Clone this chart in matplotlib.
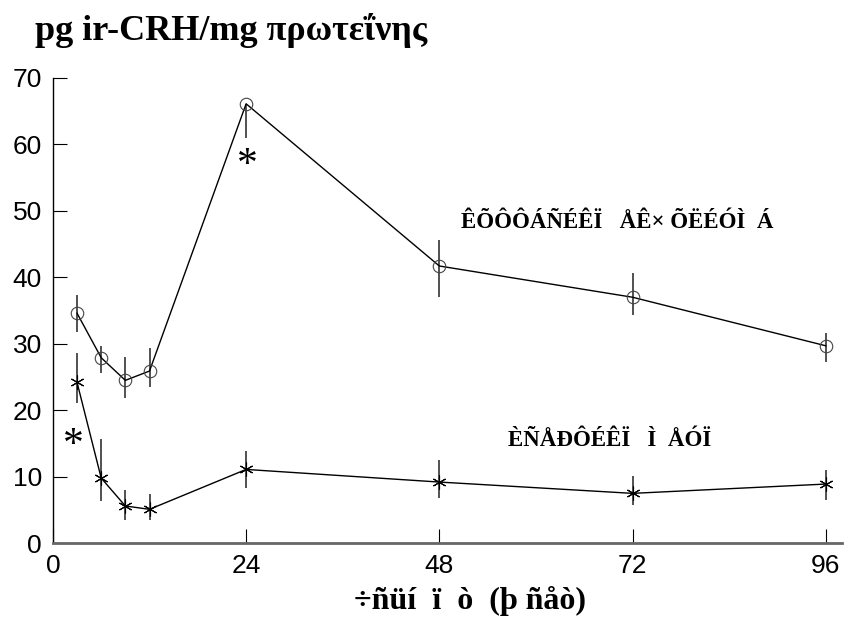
import numpy as np
import matplotlib
matplotlib.use("Agg")
import matplotlib.pyplot as plt

# sampling times (h)
hours = [3, 6, 9, 12, 24, 48, 72, 96]

# cell extract: mean and error bar bounds
extract = [34.6, 27.9, 24.5, 25.9, 66.1, 41.7, 37.0, 29.7]
extract_hi = [37.3, 29.7, 28.0, 29.4, 66.1, 45.6, 40.7, 31.6]
extract_lo = [31.8, 25.6, 21.8, 23.5, 61.0, 37.0, 34.3, 27.3]

# culture medium: mean and error bar bounds
medium = [24.2, 9.8, 5.6, 5.1, 11.1, 9.2, 7.5, 8.9]
medium_hi = [28.6, 15.7, 8.0, 7.4, 13.9, 12.5, 10.1, 11.0]
medium_lo = [21.1, 6.3, 3.5, 3.5, 8.3, 6.8, 5.7, 6.5]

xticks = [0, 24, 48, 72, 96]
yticks = [0, 10, 20, 30, 40, 50, 60, 70]

serif = "Liberation Serif"
sans = "Liberation Sans"


def err(mean, hi, lo):
    m = np.array(mean)
    return [m - np.array(lo), np.array(hi) - m]


fig = plt.figure(figsize=(8.53, 6.18), dpi=100)
ax = fig.add_axes([0.062, 0.121, 0.925, 0.753])

ax.errorbar(hours, extract, yerr=err(extract, extract_hi, extract_lo),
            color="black", ecolor="#333333", elinewidth=1.2, capsize=0,
            lw=1.0, marker="o", ms=9, mfc="none", mec="#444444", mew=0.8)
ax.errorbar(hours, medium, yerr=err(medium, medium_hi, medium_lo),
            color="black", ecolor="#333333", elinewidth=1.2, capsize=0,
            lw=1.0, marker=(6, 2, 0), ms=10, mec="black", mew=0.8)

ax.set_xlim(0, 98)
ax.set_ylim(0, 70)
ax.set_xticks(xticks)
ax.set_yticks(yticks)

for side in ("top", "right"):
    ax.spines[side].set_visible(False)
ax.spines["left"].set_linewidth(1.0)
ax.spines["bottom"].set_linewidth(2.0)
ax.spines["bottom"].set_color("#666666")

ax.tick_params(axis="both", direction="in", length=10, width=0.8,
               labelsize=19, pad=8)
for lab in ax.get_xticklabels() + ax.get_yticklabels():
    lab.set_fontfamily(sans)

# significance marks
ax.text(24.1, 56.8, "*", ha="center", va="center", fontsize=30, family=serif)
ax.text(2.5, 14.6, "*", ha="center", va="center", fontsize=30, family=serif)

# series labels
ax.text(70.1, 48.3, "ÊÕÔÔÁÑÉÊÏ   ÅÊ× ÕËÉÓÌ  Á", ha="center", va="center",
        fontsize=16.5, fontweight="bold", family=serif)
ax.text(69.1, 15.5, "ÈÑÅÐÔÉÊÏ   Ì  ÅÓÏ", ha="center", va="center",
        fontsize=16.5, fontweight="bold", family=serif)

fig.text(0.041, 0.950, "pg ir-CRH/mg πρωτεΐνης", ha="left", va="center",
         fontsize=26, fontweight="bold", family=serif)
fig.text(0.551, 0.028, "÷ñüí  ï  ò  (þ ñåò)", ha="center", va="center",
         fontsize=23, fontweight="bold", family=serif)

fig.savefig("out.png", dpi=100)
